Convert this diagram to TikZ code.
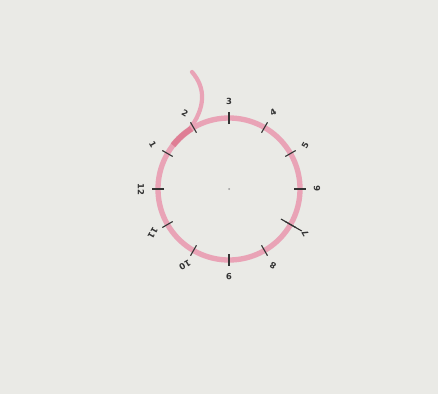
\documentclass[tikz,border=0pt]{standalone}
\usepackage{tikz}
\usepackage{fontspec}
\usetikzlibrary{calc}
\newfontfamily\lblfont{DejaVu Sans}
\definecolor{paperbg}{HTML}{EAEAE6}
\definecolor{ringpink}{HTML}{E9A3B6}
\definecolor{ringred}{HTML}{D9667F}
\definecolor{tickgrey}{HTML}{333333}

\begin{document}
\begin{tikzpicture}[x=0.025cm,y=-0.025cm,
      ring/.style={draw=ringpink,line width=3.8pt},
      tickmark/.style={draw=tickgrey,line width=0.8pt},
      lbl/.style={font=\lblfont\bfseries\fontsize{6}{7}\selectfont,text=tickgrey,inner sep=0pt}]
    % background, same size as the reference
    \fill[paperbg] (0,0) rectangle (438,394);
    \useasboundingbox (0,0) rectangle (438,394);

    \coordinate (c) at (229,189);

    % ring and the loose end
    \draw[ring] (c) circle[radius=71];
    \coordinate (join) at ($(c)+(125:71 and -71)$);
    \draw[ring,line width=3pt,line cap=round] (join) .. controls (206,108) and (206,88) .. (192,72);
    \draw[draw=ringred,line width=4.4pt,opacity=0.6] ($(c)+(122:71 and -71)$) arc[start angle=122,end angle=142,x radius=71,y radius=-71];

    % ticks and labels
    \foreach \k in {1,...,12}{
      \pgfmathsetmacro{\ang}{180-30*\k}
      \draw[tickmark] ($(c)+(\ang:65 and -65)$) -- ($(c)+(\ang:77 and -77)$);
      \node[lbl,rotate=90-\ang] (lbl\k) at ($(c)+(\ang:88 and -88)$) {\k};
    }
    \draw[tickmark] ($(c)+(-30:60 and -60)$) -- ($(c)+(-30:84 and -84)$);

    \fill[tickgrey!50] (c) circle[radius=1];
  \end{tikzpicture}
\end{document}
